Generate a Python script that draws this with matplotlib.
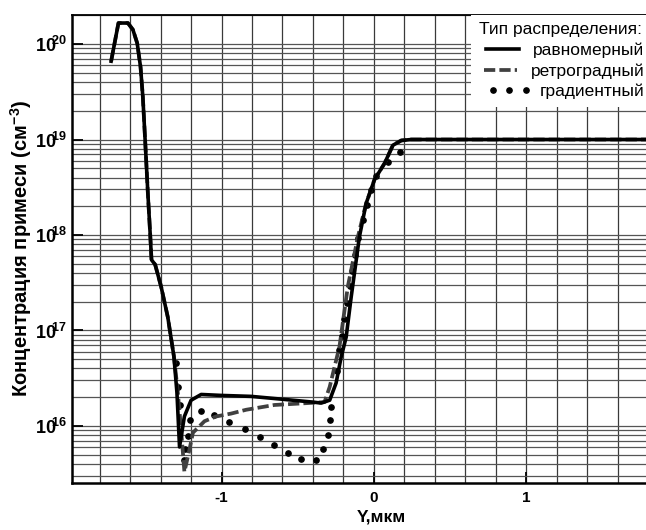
import numpy as np
import matplotlib
matplotlib.use("Agg")
import matplotlib.pyplot as plt
from matplotlib.ticker import MultipleLocator, LogLocator, FuncFormatter, NullFormatter

plt.rcParams['font.family'] = ['Liberation Sans', 'DejaVu Sans']
plt.rcParams['mathtext.fontset'] = 'custom'
plt.rcParams['mathtext.rm'] = 'Liberation Sans:bold'
plt.rcParams['mathtext.it'] = 'Liberation Sans:bold'
plt.rcParams['mathtext.bf'] = 'Liberation Sans:bold'
plt.rcParams['mathtext.sf'] = 'Liberation Sans:bold'
plt.rcParams['axes.unicode_minus'] = False

# ---- data (Y in um, log10 of concentration) ----
x_uniform = [-1.725, -1.677, -1.615, -1.582, -1.554, -1.532, -1.517, -1.502, -1.484,
             -1.469, -1.460, -1.436, -1.397, -1.353, -1.313, -1.293, -1.276, -1.244,
             -1.200, -1.134, -1.000, -0.806, -0.600, -0.400, -0.346, -0.290, -0.248,
             -0.215, -0.182, -0.149, -0.095, -0.051, 0.004, 0.070, 0.125, 0.180,
             0.245, 0.350, 1.800]
lg_uniform = [19.82, 20.22, 20.22, 20.15, 20.01, 19.76, 19.45, 19.00, 18.44,
              18.02, 17.74, 17.69, 17.46, 17.14, 16.73, 16.35, 15.78, 16.10,
              16.27, 16.33, 16.32, 16.31, 16.28, 16.25, 16.24, 16.27, 16.45,
              16.72, 16.93, 17.35, 17.98, 18.33, 18.58, 18.75, 18.94, 18.99,
              19.00, 19.00, 19.00]

x_retro = [-1.725, -1.677, -1.615, -1.582, -1.554, -1.532, -1.517, -1.502, -1.484,
           -1.469, -1.460, -1.436, -1.397, -1.353, -1.313, -1.290, -1.265, -1.244,
           -1.211, -1.188, -1.156, -1.112, -1.035, -0.937, -0.838, -0.653, -0.433,
           -0.324, -0.290, -0.258, -0.226, -0.171, -0.105, -0.051, 0.004, 0.070,
           0.125, 0.180, 0.245, 0.350, 1.800]
lg_retro = [19.82, 20.22, 20.22, 20.15, 20.01, 19.76, 19.45, 19.00, 18.44,
            18.02, 17.74, 17.69, 17.46, 17.14, 16.73, 16.40, 15.95, 15.52,
            15.75, 15.93, 15.98, 16.05, 16.10, 16.13, 16.17, 16.22, 16.24,
            16.25, 16.41, 16.62, 16.83, 17.46, 17.98, 18.33, 18.58, 18.75,
            18.94, 18.99, 19.00, 19.00, 19.00]

x_grad = [-1.302, -1.285, -1.272, -1.248, -1.237, -1.221, -1.204, -1.136, -1.049,
          -0.950, -0.847, -0.746, -0.657, -0.565, -0.477, -0.383, -0.335, -0.302,
          -0.290, -0.280, -0.241, -0.226, -0.210, -0.193, -0.175, -0.158, -0.144,
          -0.127, -0.101, -0.072, -0.044, -0.022, 0.015, 0.096, 0.173]
lg_grad = [16.66, 16.41, 16.22, 15.64, 15.76, 15.89, 16.06, 16.16, 16.12,
           16.04, 15.97, 15.88, 15.80, 15.72, 15.65, 15.64, 15.76, 15.91,
           16.06, 16.20, 16.58, 16.80, 16.94, 17.12, 17.29, 17.47, 17.62,
           17.79, 17.97, 18.16, 18.31, 18.47, 18.62, 18.76, 18.87]

labels = ['равномерный', 'ретроградный', 'градиентный']
legend_title = 'Тип распределения:'
x_ticks = [-1, 0, 1]

# ---- figure ----
W, H = 646, 530
fig = plt.figure(figsize=(W / 100, H / 100), dpi=100)
l, r, t, b = 72.3, 646.5, 15.0, 482.7
ax = fig.add_axes([l / W, (H - b) / H, (r - l) / W, (b - t) / H])

ax.set_yscale('log')
ax.set_xlim(-1.98, 1.79)
ax.set_ylim(10 ** 15.406, 10 ** 20.304)

ax.plot(x_grad, 10 ** np.array(lg_grad), linestyle='none', marker='o',
        markersize=3.8, color='black', label=labels[2], zorder=3)
ax.plot(x_retro, 10 ** np.array(lg_retro), linestyle=(0, (3.0, 1.1)),
        linewidth=2.7, color='#404040', label=labels[1], zorder=4)
ax.plot(x_uniform, 10 ** np.array(lg_uniform), linestyle='-',
        linewidth=2.6, color='black', label=labels[0], zorder=5)

# ticks / grid
ax.xaxis.set_major_locator(plt.FixedLocator(x_ticks))
ax.xaxis.set_minor_locator(MultipleLocator(0.2))
ax.yaxis.set_major_locator(LogLocator(base=10, numticks=20))
ax.yaxis.set_minor_locator(LogLocator(base=10, subs=np.arange(2, 10), numticks=100))
ax.yaxis.set_minor_formatter(NullFormatter())
ax.yaxis.set_major_formatter(FuncFormatter(lambda v, p: r'$10^{\!\!%d}$' % round(np.log10(v))))
ax.xaxis.set_major_formatter(FuncFormatter(lambda v, p: '%d' % v))

ax.tick_params(which='major', direction='in', length=8, width=1.3, color='black')
ax.tick_params(which='minor', length=0)
ax.tick_params(axis='x', labelsize=11, pad=6)
ax.tick_params(axis='y', labelsize=13, pad=4)
for lab in ax.get_xticklabels():
    lab.set_fontweight('bold')

ax.grid(True, which='both', axis='x', color='#3a3a3a', linewidth=0.9)
ax.grid(True, which='both', axis='y', color='#555555', linewidth=0.9)
ax.set_axisbelow(True)

for s in ['left', 'bottom']:
    ax.spines[s].set_linewidth(1.8)
ax.spines['top'].set_linewidth(1.3)
ax.spines['right'].set_visible(False)

ax.set_xlabel('Y,мкм', fontsize=12.5, fontweight='bold')
ax.xaxis.set_label_coords(0.5376, -0.058)
ax.set_ylabel(r'Концентрация примеси (см$^{-3}$)', fontsize=14.5, fontweight='bold')
ax.yaxis.set_label_coords(-0.0667, 0.5)

h, lb = ax.get_legend_handles_labels()
order = [2, 1, 0]
leg = ax.legend([h[i] for i in order], [lb[i] for i in order], title=legend_title,
                loc='upper right', bbox_to_anchor=(1.009, 1.0), fontsize=12.5,
                title_fontsize=12.5, frameon=True, fancybox=False, framealpha=1,
                facecolor='white', edgecolor='none', handlelength=2.5,
                handletextpad=0.5, labelspacing=0.3, borderpad=0.42,
                borderaxespad=0.0, numpoints=3, alignment='left')
for col in leg._legend_handle_box.get_children():
    col.align = 'right'
leg.set_zorder(2.5)

fig.savefig('out.png', dpi=100)
